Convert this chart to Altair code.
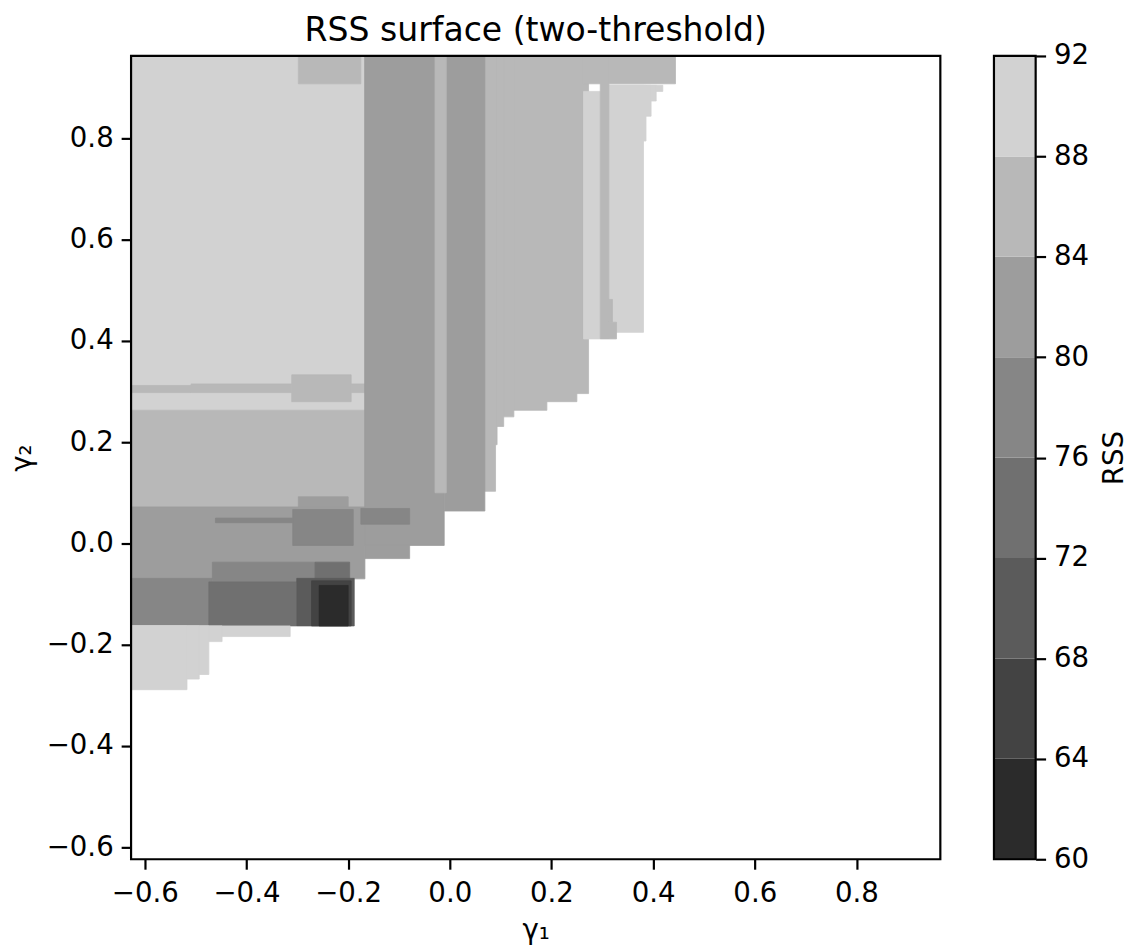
import altair as alt
import pandas as pd

FONT = "DejaVu Sans"

# ---- filled-contour regions of the RSS surface (drawn in this order) ----
# gamma1 range, gamma2 range, RSS value of the region
g1_lo = [-0.627, -0.298, -0.627, -0.509, -0.311, -0.627, -0.298, -0.627,
         -0.461, -0.309, -0.467, -0.265, -0.627, -0.474, -0.301, -0.272, -0.257,
         0.060, 0.060, 0.060, 0.060, 0.060, 0.060, 0.060, 0.263,
         -0.167, -0.167, -0.011, -0.175, -0.029,
         0.263, 0.313, 0.313, 0.313, 0.313, 0.313, 0.296, 0.313, 0.313,
         -0.627, -0.627, -0.627, -0.627, -0.627]
g1_hi = [-0.167, -0.175, -0.509, -0.167, -0.194, -0.167, -0.200, -0.167,
         -0.309, -0.190, -0.265, -0.197, -0.467, -0.301, -0.188, -0.194, -0.200,
         0.273, 0.250, 0.191, 0.126, 0.106, 0.093, 0.090, 0.444,
         -0.079, -0.011, 0.069, -0.079, -0.007,
         0.296, 0.381, 0.419, 0.406, 0.396, 0.386, 0.313, 0.320, 0.328,
         -0.314, -0.448, -0.474, -0.493, -0.517]
g2_lo = [0.263, 0.908, 0.298, 0.298, 0.280, 0.072, 0.060, -0.070,
         0.041, -0.004, -0.076, -0.070, -0.163, -0.163, -0.163, -0.163, -0.163,
         0.296, 0.280, 0.263, 0.250, 0.231, 0.195, 0.103, 0.908,
         -0.030, -0.004, 0.064, 0.038, 0.100,
         0.404, 0.417, 0.893, 0.874, 0.844, 0.795, 0.404, 0.437, 0.404,
         -0.184, -0.194, -0.259, -0.268, -0.289]
g2_hi = [0.963, 0.963, 0.312, 0.315, 0.333, 0.263, 0.092, 0.072,
         0.050, 0.067, -0.037, -0.037, -0.069, -0.076, -0.069, -0.074, -0.083,
         0.963, 0.963, 0.963, 0.963, 0.963, 0.963, 0.963, 0.963,
         0.963, 0.963, 0.963, 0.069, 0.963,
         0.893, 0.905, 0.905, 0.905, 0.905, 0.905, 0.963, 0.482, 0.437,
         -0.163, -0.163, -0.163, -0.163, -0.163]
rss = [90, 86, 86, 86, 86, 86, 82, 82,
       78, 78, 78, 74, 78, 74, 70, 66, 62,
       86, 86, 86, 86, 86, 86, 86, 86,
       82, 82, 82, 78, 86,
       90, 90, 90, 90, 90, 90, 86, 86, 86,
       90, 90, 90, 90, 90]

# ---- contour levels and colours ----
levels = [60, 64, 68, 72, 76, 80, 84, 88, 92]
band_colors = ["#2b2b2b", "#434343", "#5b5b5b", "#707070",
               "#868686", "#9d9d9d", "#b8b8b8", "#d2d2d2"]

x_ticks = [-0.6, -0.4, -0.2, 0.0, 0.2, 0.4, 0.6, 0.8]
y_ticks = [-0.6, -0.4, -0.2, 0.0, 0.2, 0.4, 0.6, 0.8]

chart_title = "RSS surface (two-threshold)"

W, H = 815, 809
CBW = 42
FS = 27.8

surf_df = pd.DataFrame({"g1_lo": g1_lo, "g1_hi": g1_hi,
                        "g2_lo": g2_lo, "g2_hi": g2_hi, "rss": rss})
cb_df = pd.DataFrame({"lo": levels[:-1], "hi": levels[1:]})

color_scale = alt.Scale(type="threshold", domain=levels[1:-1], range=band_colors)

axis_common = dict(labelFont=FONT, titleFont=FONT, labelFontSize=FS,
                   titleFontSize=FS, titleFontWeight="normal",
                   labelColor="black", titleColor="black",
                   tickSize=10, tickWidth=2.2, tickColor="black",
                   domain=False, grid=False)

surface = alt.Chart(surf_df).mark_rect(strokeWidth=0.8).encode(
    x=alt.X("g1_lo:Q",
            scale=alt.Scale(domain=[-0.627, 0.965], nice=False, zero=False),
            axis=alt.Axis(values=x_ticks, format=".1f", title="γ₁",
                          labelPadding=11, titlePadding=9, **axis_common)),
    x2="g1_hi:Q",
    y=alt.Y("g2_lo:Q",
            scale=alt.Scale(domain=[-0.624, 0.963], nice=False, zero=False),
            axis=alt.Axis(values=y_ticks, format=".1f", title="γ₂",
                          labelPadding=8, titlePadding=10, **axis_common)),
    y2="g2_hi:Q",
    color=alt.Color("rss:Q", scale=color_scale, legend=None),
    stroke=alt.Color("rss:Q", scale=color_scale, legend=None),
)

one = pd.DataFrame({"k": [0]})

frame = alt.Chart(one).mark_rect(
    fillOpacity=0, stroke="black", strokeWidth=2.2
).encode(x=alt.value(0), x2=alt.value(W), y=alt.value(0), y2=alt.value(H))

title_mark = alt.Chart(one).mark_text(
    font=FONT, fontSize=33.3, color="black", align="center",
    baseline="alphabetic"
).encode(x=alt.value(W / 2), y=alt.value(-15), text=alt.value(chart_title))

main = alt.layer(surface, frame, title_mark).properties(width=W, height=H)

bands = alt.Chart(cb_df).mark_rect().encode(
    x=alt.value(0), x2=alt.value(CBW),
    y=alt.Y("lo:Q", scale=alt.Scale(domain=[60, 92], nice=False, zero=False),
            axis=alt.Axis(orient="right", values=levels, title="RSS",
                          titleAngle=270, titleBaseline="top", titlePadding=12,
                          labelPadding=8, **axis_common)),
    y2="hi:Q",
    color=alt.Color("lo:Q", scale=color_scale, legend=None),
)
cb_frame = alt.Chart(one).mark_rect(
    fillOpacity=0, stroke="black", strokeWidth=2.2
).encode(x=alt.value(0), x2=alt.value(CBW), y=alt.value(0), y2=alt.value(H))

colorbar = alt.layer(bands, cb_frame).properties(width=CBW, height=H)

chart = alt.hconcat(main, colorbar, spacing=50).configure_view(
    stroke=None
).properties(
    padding={"left": 8, "top": 11, "right": 0, "bottom": 0},
    background="white",
)

chart.save("out.html", embed_options={"renderer": "svg", "actions": False})
